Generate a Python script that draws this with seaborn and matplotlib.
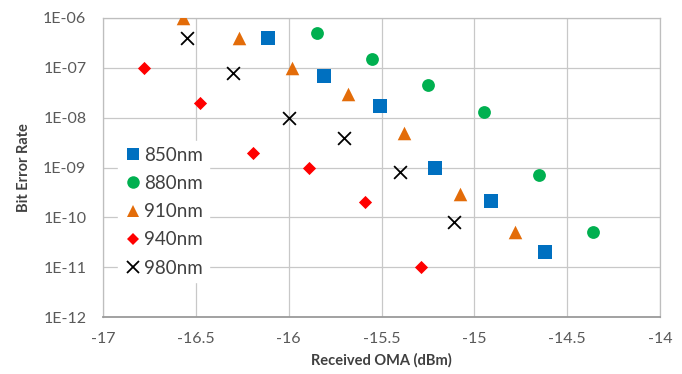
import matplotlib
matplotlib.use("Agg")
import matplotlib.pyplot as plt
import seaborn as sns
import pandas as pd
from matplotlib.lines import Line2D

series = ["850nm", "880nm", "910nm", "940nm", "980nm"]
x_850 = [-16.11, -15.81, -15.51, -15.21, -14.91, -14.62]
y_850 = [4e-7, 7e-8, 1.7e-8, 1e-9, 2.1e-10, 2e-11]
x_880 = [-15.85, -15.55, -15.25, -14.95, -14.65, -14.36]
y_880 = [5e-7, 1.5e-7, 4.5e-8, 1.3e-8, 7e-10, 5e-11]
x_910 = [-16.57, -16.27, -15.98, -15.68, -15.38, -15.08, -14.78]
y_910 = [1e-6, 4e-7, 1e-7, 3e-8, 5e-9, 3e-10, 5e-11]
x_940 = [-16.78, -16.48, -16.19, -15.89, -15.59, -15.29]
y_940 = [1e-7, 2e-8, 2e-9, 1e-9, 2e-10, 1e-11]
x_980 = [-16.55, -16.30, -16.0, -15.70, -15.40, -15.11]
y_980 = [4e-7, 8e-8, 1e-8, 4e-9, 8e-10, 8e-11]

xs = [x_850, x_880, x_910, x_940, x_980]
ys = [y_850, y_880, y_910, y_940, y_980]
rows = []
for name, xv, yv in zip(series, xs, ys):
    for a, b in zip(xv, yv):
        rows.append({"oma": a, "ber": b, "wl": name})
df = pd.DataFrame(rows)

colors = {"850nm": "#0070C0", "880nm": "#00B050", "910nm": "#E36C09",
          "940nm": "#FF0000", "980nm": "#000000"}
markers = {"850nm": "s", "880nm": "o", "910nm": "^", "940nm": "D", "980nm": "x"}
sizes = {"850nm": 95, "880nm": 85, "910nm": 95, "940nm": 45, "980nm": 85}

sns.set_style("white")
plt.rcParams["font.family"] = ["Lato", "DejaVu Sans"]

fig = plt.figure(figsize=(6.82, 3.74), dpi=100)
ax = fig.add_axes([0.151, 0.152, 0.817, 0.8])

for name in series:
    sub = df[df["wl"] == name]
    kw = dict(linewidth=0) if markers[name] != "x" else dict(linewidth=1.3)
    sns.scatterplot(data=sub, x="oma", y="ber", color=colors[name],
                    marker=markers[name], s=sizes[name], ax=ax, label=name,
                    zorder=3, **kw)

ax.set_yscale("log")
ax.set_xlim(-17, -14)
ax.set_ylim(1e-12, 1e-6)
ax.set_xticks([-17, -16.5, -16, -15.5, -15, -14.5, -14])
ax.set_xticklabels(["-17", "-16.5", "-16", "-15.5", "-15", "-14.5", "-14"])
yt = [1e-12, 1e-11, 1e-10, 1e-9, 1e-8, 1e-7, 1e-6]
ax.set_yticks(yt)
ax.set_yticklabels(["1E-12", "1E-11", "1E-10", "1E-09", "1E-08", "1E-07", "1E-06"])
ax.yaxis.set_minor_locator(matplotlib.ticker.NullLocator())
ax.grid(True, color="#C8C8C8", linewidth=0.9)
ax.set_axisbelow(True)
for s in ax.spines.values():
    s.set_color("#BEBEBE")
    s.set_linewidth(0.9)
ax.spines["bottom"].set_color("#9A9A9A")
ax.spines["bottom"].set_linewidth(1.3)
ax.tick_params(axis="y", labelsize=11.5, colors="#595959", length=0, pad=12)
ax.tick_params(axis="x", labelsize=11.5, colors="#595959", length=0, pad=11)
ax.set_xlabel("Received OMA (dBm)", fontsize=10.5, fontweight="bold", color="#404040", labelpad=5)
ax.set_ylabel("Bit Error Rate", fontsize=10.5, fontweight="bold", color="#404040", labelpad=9)

handles = [Line2D([0], [0], linestyle="none", marker=markers[n], color=colors[n],
                  markersize=(9 if markers[n] != "D" else 6.5), markeredgewidth=(1.3 if markers[n] == "x" else 0))
           for n in series]
leg = ax.legend(handles, series, loc="upper left", bbox_to_anchor=(0.01, 0.62),
                frameon=True, fancybox=False, framealpha=1, edgecolor="white",
                fontsize=13.5, handletextpad=0.1, labelspacing=0.6,
                borderpad=0.3, handlelength=1.0)
for t in leg.get_texts():
    t.set_color("#404040")

fig.savefig("out.png", dpi=100)
